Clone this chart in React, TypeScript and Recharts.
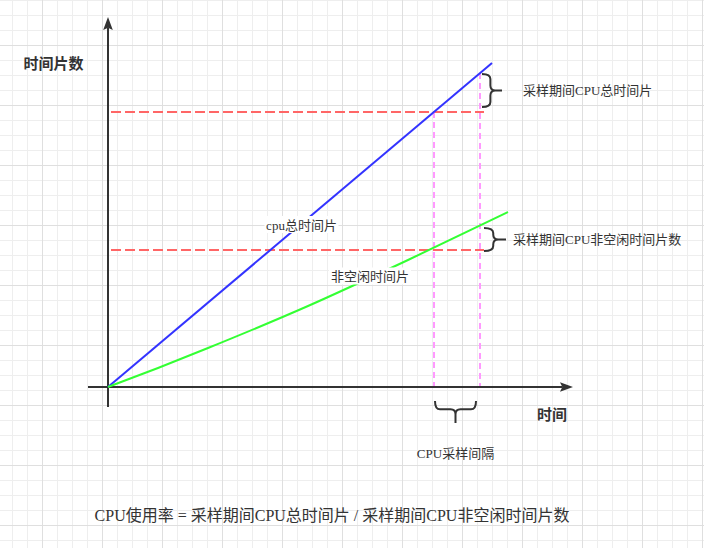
import React from "react";
import {
  ComposedChart,
  Line,
  XAxis,
  YAxis,
  ReferenceLine,
  ReferenceArea,
  ReferenceDot,
} from "recharts";

// time (x) and time-slice counts (y)
const totalTime = [0, 38.4];
const totalSlices = [0, 32.4];
const busyTime = [0, 5, 10, 20, 30, 40];
const busySlices = [0, 1.9, 3.9, 8.1, 12.7, 17.5];

const sampleStart = 32.6;
const sampleEnd = 37.2;
const totalAtStart = 27.5;
const totalAtEnd = 31.4;
const busyAtStart = 13.7;

const xDomain = [-10.8, 59.6];
const yDomain = [-16.1, 38.7];

const totalData = totalTime.map((t, i) => ({ t, v: totalSlices[i] }));
const busyData = busyTime.map((t, i) => ({ t, v: busySlices[i] }));

const INK = "#333333";
const SERIF_CJK = "'Liberation Serif', 'Noto Sans CJK SC', serif";
const SANS_CJK = "'Noto Sans CJK SC', sans-serif";

const arrowLine = (p: any) => {
  const { x1, y1, x2, y2 } = p;
  const dx = x2 - x1;
  const dy = y2 - y1;
  const len = Math.hypot(dx, dy);
  const ux = dx / len;
  const uy = dy / len;
  const L = 13;
  const W = 4.8;
  const bx = x2 - ux * L;
  const by = y2 - uy * L;
  const nx = -uy;
  const ny = ux;
  const mx = x2 - ux * L * 0.82;
  const my = y2 - uy * L * 0.82;
  return (
    <g>
      <line x1={x1} y1={y1} x2={mx} y2={my} stroke={INK} strokeWidth={2} />
      <polygon
        points={`${x2},${y2} ${bx + nx * W},${by + ny * W} ${mx},${my} ${bx - nx * W},${by - ny * W}`}
        fill={INK}
      />
    </g>
  );
};

const rightBrace = (p: any) => {
  const { x, y, width: w, height: h } = p;
  const xv = x + w * 0.42;
  const ym = y + h / 2;
  const r = 5;
  const d = `M${x},${y} Q${xv},${y} ${xv},${y + r} L${xv},${ym - r} Q${xv},${ym} ${xv + r},${ym} L${x + w},${ym} M${xv + r},${ym} Q${xv},${ym} ${xv},${ym + r} L${xv},${y + h - r} Q${xv},${y + h} ${x},${y + h}`;
  return <path d={d} fill="none" stroke={INK} strokeWidth={2} />;
};

const downBrace = (p: any) => {
  const { x, y, width: w, height: h } = p;
  const ys = y + h * 0.38;
  const xm = x + w / 2;
  const r = 5;
  const d = `M${x},${y} Q${x},${ys} ${x + r},${ys} L${xm - r},${ys} Q${xm},${ys} ${xm},${ys + r} L${xm},${y + h} M${xm},${ys + r} Q${xm},${ys} ${xm + r},${ys} L${x + w - r},${ys} Q${x + w},${ys} ${x + w},${y}`;
  return <path d={d} fill="none" stroke={INK} strokeWidth={2} />;
};

const note =
  (text: string, opts: { size?: number; bold?: boolean; anchor?: string; boxW?: number }) =>
  (p: any) => {
    const { cx, cy } = p;
    const size = opts.size ?? 13;
    return (
      <g>
        {opts.boxW ? (
          <rect x={cx - opts.boxW / 2} y={cy - 9} width={opts.boxW} height={17} fill="#ffffff" />
        ) : null}
        <text
          x={cx}
          y={cy}
          textAnchor={(opts.anchor as any) ?? "middle"}
          dominantBaseline="central"
          fontSize={size}
          fontWeight={opts.bold ? "bold" : "normal"}
          fontFamily={opts.bold ? SANS_CJK : SERIF_CJK}
          fill={INK}
        >
          {text}
        </text>
      </g>
    );
  };

export default function App() {
  return (
    <div
      style={{
        position: "absolute",
        left: 0,
        top: 0,
        width: 704,
        height: 548,
        backgroundColor: "#ffffff",
        backgroundImage: [
          "linear-gradient(to right, #dfdfdf 1px, transparent 1px)",
          "linear-gradient(to bottom, #dfdfdf 1px, transparent 1px)",
          "linear-gradient(to right, #eeeeee 1px, transparent 1px)",
          "linear-gradient(to bottom, #eeeeee 1px, transparent 1px)",
        ].join(", "),
        backgroundSize: "60px 60px, 60px 60px, 15px 15px, 15px 15px",
        backgroundPosition: "42px 0, 0 45px, 12px 0, 0 0",
      }}
    >
      <ComposedChart width={704} height={548} margin={{ top: 0, right: 0, bottom: 0, left: 0 }}>
        <XAxis type="number" dataKey="t" domain={xDomain} allowDataOverflow hide />
        <YAxis type="number" dataKey="v" domain={yDomain} allowDataOverflow hide />

        {/* sampling guides */}
        <ReferenceLine
          segment={[{ x: 0.3, y: totalAtStart }, { x: 37.6, y: totalAtStart }]}
          stroke="#ff6666"
          strokeWidth={2}
          strokeDasharray="10 4"
        />
        <ReferenceLine
          segment={[{ x: 0.3, y: busyAtStart }, { x: 37.6, y: busyAtStart }]}
          stroke="#ff6666"
          strokeWidth={2}
          strokeDasharray="10 4"
        />
        <ReferenceLine
          segment={[{ x: sampleStart, y: totalAtStart }, { x: sampleStart, y: 0 }]}
          stroke="#ff99ff"
          strokeWidth={2}
          strokeDasharray="6 4"
        />
        <ReferenceLine
          segment={[{ x: sampleEnd, y: totalAtEnd }, { x: sampleEnd, y: 0 }]}
          stroke="#ff99ff"
          strokeWidth={2}
          strokeDasharray="6 4"
        />

        {/* axes with arrows */}
        <ReferenceLine segment={[{ x: -2, y: 0 }, { x: 46.5, y: 0 }]} shape={arrowLine} />
        <ReferenceLine segment={[{ x: 0, y: -2 }, { x: 0, y: 37 }]} shape={arrowLine} />

        <Line
          data={totalData}
          dataKey="v"
          type="linear"
          stroke="#3333ff"
          strokeWidth={2}
          dot={false}
          activeDot={false}
          isAnimationActive={false}
        />
        <Line
          data={busyData}
          dataKey="v"
          type="monotone"
          stroke="#33ff33"
          strokeWidth={2}
          dot={false}
          activeDot={false}
          isAnimationActive={false}
        />

        {/* braces */}
        <ReferenceArea x1={37.4} x2={39.4} y1={28.0} y2={31.3} shape={rightBrace} />
        <ReferenceArea x1={37.6} x2={39.8} y1={13.6} y2={15.9} shape={rightBrace} />
        <ReferenceArea x1={32.7} x2={36.8} y1={-3.6} y2={-1.4} shape={downBrace} />

        {/* labels */}
        <ReferenceDot x={-5.45} y={32.5} r={0} shape={note("时间片数", { size: 15, bold: true })} />
        <ReferenceDot x={44.4} y={-2.6} r={0} shape={note("时间", { size: 15, bold: true })} />
        <ReferenceDot x={41.5} y={29.7} r={0} shape={note("采样期间CPU总时间片", { anchor: "start" })} />
        <ReferenceDot x={40.5} y={14.8} r={0} shape={note("采样期间CPU非空闲时间片数", { anchor: "start" })} />
        <ReferenceDot x={19.35} y={16.2} r={0} shape={note("cpu总时间片", { boxW: 74 })} />
        <ReferenceDot x={26.2} y={11.05} r={0} shape={note("非空闲时间片", { boxW: 82 })} />
        <ReferenceDot x={34.75} y={-6.6} r={0} shape={note("CPU采样间隔", {})} />
        <ReferenceDot
          x={22.4}
          y={-12.8}
          r={0}
          shape={note("CPU使用率 = 采样期间CPU总时间片 / 采样期间CPU非空闲时间片数", { size: 16 })}
        />
      </ComposedChart>
    </div>
  );
}
